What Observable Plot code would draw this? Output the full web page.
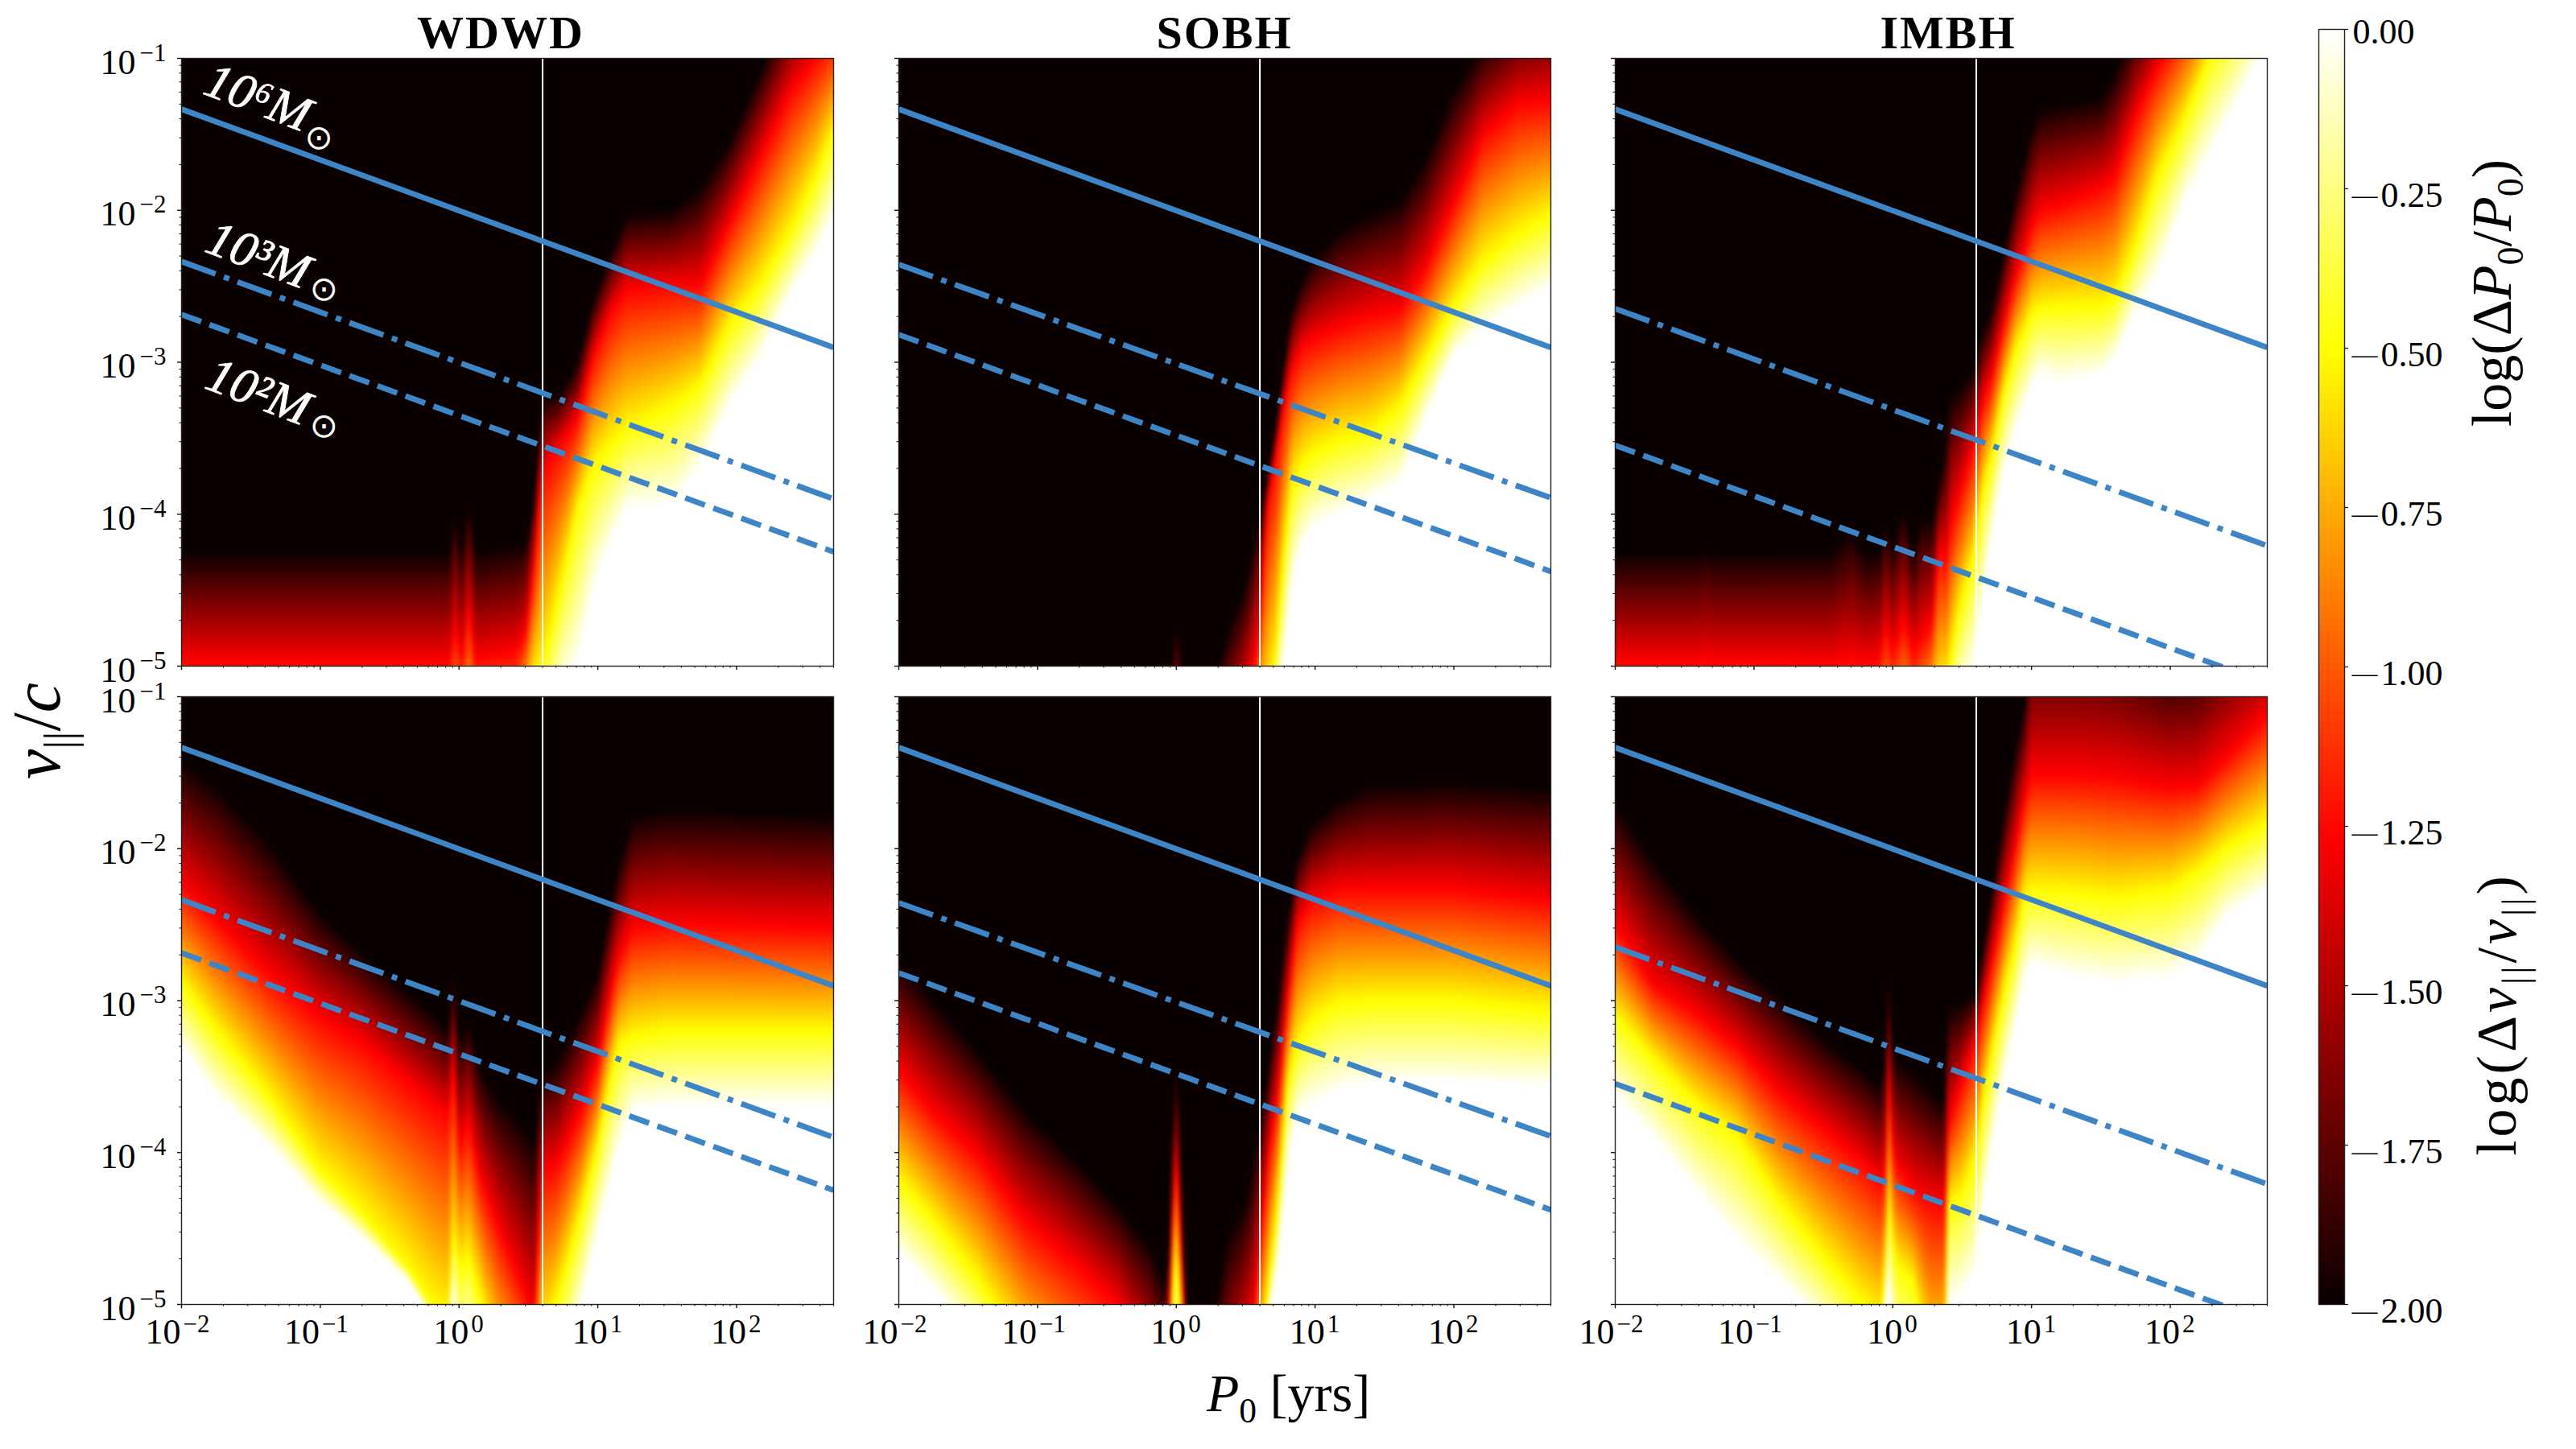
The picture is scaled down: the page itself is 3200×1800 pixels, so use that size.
<!DOCTYPE html>
<html>
<head>
<meta charset="utf-8">
<script src="https://cdn.jsdelivr.net/npm/d3@7"></script>
<script src="https://cdn.jsdelivr.net/npm/@observablehq/plot@0.6"></script>
<style>
  body { margin: 0; background: white; }
  #figure { position: relative; width: 3200px; height: 1800px; overflow: hidden; font-family: "Liberation Serif", serif; color: black; }
  #figure svg { position: absolute; overflow: visible; background: transparent; }
  .txt { position: absolute; white-space: nowrap; line-height: 1; }
  .title { font-weight: bold; font-size: 58px; letter-spacing: 2px; transform: translateX(-50%); }
  .rot { transform: translate(-50%, -50%) rotate(-90deg); }
  .txt sub { font-size: 66%; line-height: 0; }
  i { font-style: italic; }
</style>
</head>
<body>
<div id="figure"></div>
<script>
// colour levels, every panel is stored as the log10(v/c)
// where each column of the map reaches that level (black, red, yellow, white)
const levels = [-2, -1.27, -0.5, 0]
const levelColors = ['#0a0000', '#ff0000', '#ffff00', '#ffffff']

const wdwdTopP = [-2,-1.6,-1.2,-0.8,-0.4,-0.12,-0.07,-0.03,0.02,0.07,0.12,0.4,0.48,0.54,0.6,0.73,0.85,0.97,1.09,1.21,1.54,1.74,1.95,2.15,2.39,2.56,2.7]
const wdwdTopBlack = [-4.25,-4.25,-4.25,-4.25,-4.25,-4.25,-4.25,-3.98,-4.25,-3.9,-4.25,-4.2,-4.19,-3.89,-3.23,-3.2,-3.0,-2.58,-2.28,-2.02,-2.0,-1.84,-1.54,-1.12,-0.6,-0.4,-0.3]
const wdwdTopRed = [-4.97,-4.97,-4.97,-4.97,-4.97,-4.97,-4.97,-4.75,-4.95,-4.62,-4.95,-4.9,-4.78,-4.33,-3.71,-3.53,-3.38,-2.94,-2.67,-2.52,-2.49,-2.49,-2.08,-1.69,-1.21,-1.0,-0.85]
const wdwdTopYellow = [-5.7,-5.7,-5.7,-5.7,-5.7,-5.7,-5.7,-5.5,-5.6,-5.45,-5.6,-5.6,-5.25,-5.1,-5.0,-4.5,-3.98,-3.68,-3.55,-3.44,-3.29,-3.15,-2.76,-2.52,-2.14,-1.81,-1.48]
const wdwdTopWhite = [-6.3,-6.3,-6.3,-6.3,-6.3,-6.3,-6.3,-6.1,-6.2,-6.1,-6.2,-6.2,-5.7,-5.6,-5.6,-5.17,-5,-4.48,-4.19,-3.96,-3.93,-3.68,-3.29,-3,-2.55,-2.31,-2.02]

const sobhTopP = [-2,-1.5,-1,-0.5,-0.2,-0.06,0,0.06,0.15,0.3,0.4,0.5,0.59,0.65,0.71,0.77,0.83,0.91,1,1.18,1.4,1.61,1.79,2,2.21,2.46,2.7]
const sobhTopBlack = [-5.5,-5.5,-5.5,-5.5,-5.5,-5.2,-4.7,-5.1,-5.3,-5,-4.68,-4.45,-4.03,-3.77,-3.46,-3.04,-2.65,-2.45,-2.29,-2.13,-2.02,-1.93,-1.67,-1.2,-0.9,-0.7,-0.6]
const sobhTopRed = [-6,-6,-6,-6,-6,-6,-5.4,-6,-6,-5.6,-5.5,-5.2,-4.86,-3.95,-3.64,-3.3,-3.04,-2.89,-2.84,-2.76,-2.69,-2.65,-2.39,-1.95,-1.5,-1.3,-1.27]
const sobhTopYellow = [-7,-7,-7,-7,-7,-7,-6.5,-7,-7,-6.4,-5.9,-5.6,-5.4,-5.3,-5,-4.34,-3.82,-3.67,-3.59,-3.51,-3.46,-3.3,-2.99,-2.63,-2.34,-2.16,-2.03]
const sobhTopWhite = [-8,-8,-8,-8,-8,-8,-7.5,-8,-8,-7,-6.3,-5.9,-5.8,-5.6,-5.3,-5,-4.47,-4.19,-4.08,-3.99,-3.9,-3.8,-3.38,-2.95,-2.78,-2.63,-2.5]

const imbhTopP = [-2,-1.7,-1.4,-1.35,-1.3,-0.9,-0.45,-0.3,-0.2,-0.1,-0.05,0,0.08,0.15,0.21,0.28,0.34,0.38,0.41,0.47,0.58,0.65,0.71,0.79,0.88,1,1.06,1.2,1.5,1.6,1.76,1.9,2.1,2.3,2.5,2.7]
const imbhTopBlack = [-4.26,-4.26,-4.26,-4.22,-4.26,-4.26,-4.25,-4.1,-4.25,-4.25,-4.05,-4.2,-3.95,-4.25,-4.0,-4.05,-3.75,-3.56,-3.23,-3.17,-3.04,-2.78,-2.65,-2.32,-1.9,-1.46,-1.33,-1.3,-1.26,-1.09,-0.75,-0.6,-0.3,-0.1,0.1,0.3]
const imbhTopRed = [-4.97,-4.97,-4.97,-4.95,-4.97,-4.97,-4.98,-4.95,-4.97,-4.95,-4.75,-4.9,-4.7,-4.9,-4.8,-4.72,-4.2,-4.34,-4.08,-3.9,-3.56,-3.25,-3.1,-2.78,-2.45,-2.11,-2,-1.96,-1.85,-1.77,-1.35,-1.07,-0.75,-0.5,-0.3,-0.1]
const imbhTopYellow = [-5.7,-5.7,-5.7,-5.7,-5.7,-5.7,-5.7,-5.7,-5.7,-5.65,-5.5,-5.6,-5.45,-5.6,-5.5,-5.3,-5.15,-5.13,-5,-4.68,-4.3,-3.85,-3.64,-3.25,-2.94,-2.69,-2.65,-2.63,-2.63,-2.58,-2.21,-1.8,-1.41,-0.95,-0.7,-0.4]
const imbhTopWhite = [-6.3,-6.3,-6.3,-6.3,-6.3,-6.3,-6.3,-6.3,-6.3,-6.3,-6,-6.2,-6,-6.1,-6,-5.8,-5.7,-5.6,-5.5,-5.25,-5,-4.55,-4.16,-3.75,-3.46,-3.17,-3.07,-3.13,-3.08,-2.97,-2.65,-2.45,-1.95,-1.61,-1.25,-0.9]

const wdwdBotP = [-2,-1.75,-1.38,-1.01,-0.7,-0.37,-0.2,-0.08,-0.04,0,0.07,0.15,0.27,0.45,0.54,0.6,0.7,0.88,1,1.08,1.15,1.25,1.5,2.7]
const wdwdBotBlack = [-1.42,-1.58,-1.94,-2.41,-2.68,-2.94,-3.07,-3.2,-2.8,-3.27,-3.12,-3.43,-3.62,-3.79,-3.95,-3.46,-3.4,-3.07,-2.81,-2.42,-2.1,-1.79,-1.74,-1.78]
const wdwdBotRed = [-2.23,-2.46,-2.81,-3.1,-3.27,-3.53,-3.66,-3.75,-3.45,-3.95,-3.8,-4.15,-4.45,-4.86,-5.08,-4.11,-4.08,-3.72,-3.4,-3,-2.72,-2.52,-2.49,-2.52]
const wdwdBotYellow = [-2.88,-3.2,-3.62,-4.11,-4.4,-4.76,-4.99,-5.1,-4.55,-4.76,-4.7,-4.95,-5.36,-5.7,-5.7,-5.2,-5,-4.4,-3.95,-3.56,-3.3,-3.24,-3.2,-3.2]
const wdwdBotWhite = [-3.3,-3.63,-3.95,-4.32,-4.56,-4.84,-5.1,-5.4,-4.86,-5.41,-5.2,-5.7,-6,-6.3,-6.3,-5.9,-5.7,-5,-4.53,-4.24,-3.98,-3.72,-3.69,-3.69]

const sobhBotP = [-2,-1.76,-1.43,-1.09,-0.76,-0.42,-0.19,-0.09,-0.05,-0.03,0,0.03,0.06,0.1,0.2,0.29,0.37,0.5,0.57,0.6,0.67,0.73,0.8,0.87,0.97,1.17,1.4,2,2.7]
const sobhBotBlack = [-2.72,-2.98,-3.33,-3.72,-4.01,-4.34,-4.6,-4.86,-4.6,-3.95,-3.4,-3.95,-4.76,-5.41,-5.41,-5,-4.53,-4.31,-4,-3.79,-3.4,-2.98,-2.46,-2.07,-1.84,-1.68,-1.58,-1.56,-1.6]
const sobhBotRed = [-3.46,-3.72,-4.01,-4.44,-4.7,-4.99,-5.41,-5.7,-5,-4.44,-4.05,-4.53,-5.05,-6,-6,-5.8,-5.7,-5.25,-5,-4.6,-3.95,-3.62,-3,-2.49,-2.34,-2.26,-2.26,-2.26,-2.34]
const sobhBotYellow = [-4.18,-4.44,-4.83,-5.34,-5.73,-6.2,-6.7,-7,-5.7,-5.02,-4.7,-5.05,-5.7,-6.7,-6.7,-6.5,-6.5,-6,-5.5,-5.4,-4.85,-4.37,-3.56,-3.3,-3.14,-3.02,-3,-3,-3.07]
const sobhBotWhite = [-4.66,-4.89,-5.25,-5.73,-6.2,-6.7,-7.3,-7.7,-6.7,-5.73,-5.41,-5.7,-6.7,-7.5,-7.5,-7.2,-7,-6.5,-5.9,-5.7,-5.05,-4.76,-4.11,-3.75,-3.69,-3.59,-3.54,-3.54,-3.56]

const imbhBotP = [-2,-1.73,-1.43,-1.12,-0.82,-0.52,-0.21,-0.09,-0.05,-0.03,0,0.03,0.15,0.27,0.37,0.4,0.49,0.6,0.65,0.71,0.78,0.88,0.95,1,1.3,1.6,2,2.2,2.4,2.7]
const imbhBotBlack = [-1.69,-2.06,-2.42,-2.73,-2.97,-3.23,-3.46,-3.56,-3.3,-2.8,-3.3,-3.38,-3.46,-3.59,-3.67,-3.04,-3.02,-2.94,-2.65,-2.29,-1.87,-1.35,-1.04,-0.5,-0.5,-0.55,-0.75,-0.7,-0.5,-0.3]
const imbhBotRed = [-2.5,-2.89,-3.07,-3.3,-3.59,-3.82,-4.06,-4.19,-4.08,-3.5,-3.95,-4.08,-4.24,-4.3,-4.34,-3.82,-3.56,-3.25,-3.02,-2.76,-2.45,-2,-1.67,-1.51,-1.51,-1.53,-1.6,-1.58,-1.4,-1.12]
const imbhBotYellow = [-3.1,-3.38,-3.67,-3.9,-4.32,-4.66,-5,-5.1,-4.74,-4.3,-4.6,-4.74,-4.86,-5.4,-5.4,-4.34,-4.29,-4.03,-3.67,-3.38,-3.04,-2.65,-2.32,-2.28,-2.29,-2.33,-2.27,-2.15,-2,-1.83]
const imbhBotWhite = [-3.62,-3.9,-4.24,-4.58,-4.84,-5.12,-5.5,-5.7,-4.95,-4.86,-5.12,-5.4,-5.6,-5.9,-5.9,-5,-4.94,-4.79,-4.34,-4,-3.62,-3.17,-2.86,-2.76,-2.84,-2.88,-2.85,-2.72,-2.45,-2.26]

// mass lines, v/c at P0 = 0.01 and P0 = 500 yr, same in both rows
const lineP = [0.01, 500]
const wdwdSolid = [0.0463, 0.00125], wdwdDashDot = [0.0046, 0.000126], wdwdDash = [0.00206, 0.0000565]
const sobhSolid = [0.0463, 0.00125], sobhDashDot = [0.0044, 0.000128], sobhDash = [0.00152, 0.000042]
const imbhSolid = [0.0463, 0.00125], imbhDashDot = [0.00225, 0.000062], imbhDash = [0.000284, 0.0000077]

const orbitP = 4
const xMajor = [0.01, 0.1, 1, 10, 100]
const xExp = ['\u22122', '\u22121', '0', '1', '2']
const yMajor = [1e-5, 1e-4, 1e-3, 1e-2, 1e-1]
const yExp = ['\u22125', '\u22124', '\u22123', '\u22122', '\u22121']
const xMinor = [0.01, 0.1, 1, 10, 100].flatMap(d => [2,3,4,5,6,7,8,9].map(m => m * d)).filter(d => d <= 500)
const yMinor = [1e-5, 1e-4, 1e-3, 1e-2].flatMap(d => [2,3,4,5,6,7,8,9].map(m => m * d))

const massLabels = ['10\u2076', '10\u00b3', '10\u00b2']
const massLabelP = [0.0139, 0.0143, 0.0143]
const massLabelV = [0.059, 0.0054, 0.00068]
const sunP = [0.0975, 0.106, 0.106]
const sunV = [0.0298, 0.00302, 0.00038]

const cbarTicks = [-1.75, -1.5, -1.25, -1, -0.75, -0.5, -0.25, -2]
const cbarSteps = d3.range(-2, 0, 0.005)

const blue = '#3d85c6'
const colorScale = {type: 'linear', domain: levels, range: levelColors, clamp: true}

// one value per frame pixel, filled between the level curves read above
const gridW = 810, gridH = 755
const pxP = d3.range(gridW).map(i => -2 + (i + 0.5) / gridW * (Math.log10(500) + 2))
const pxV = d3.range(gridH).map(j => -1 - (j + 0.5) / gridH * 4)
const pxIndex = d3.range(gridW * gridH)
function levelGrid(P, black, red, yellow, white) {
  let curves = [white, yellow, red, black].map(c => d3.scaleLinear().domain(P).range(c))
  let grid = new Float64Array(gridW * gridH)
  pxP.forEach((p, i) => {
    let column = d3.scaleLinear().domain(curves.map(c => c(p))).range([0, -0.5, -1.27, -2]).clamp(true)
    pxV.forEach((v, j) => { grid[j * gridW + i] = column(v) })
  })
  return grid
}

function massLine(vs, dash) {
  let rows = lineP.map((p, i) => ({p, v: vs[i]}))
  return Plot.line(rows, {x: 'p', y: 'v', stroke: blue, strokeWidth: 7, strokeDasharray: dash, strokeLinecap: 'butt', clip: true})
}

const frameW = 810, frameH = 755
const mL = 150, mT = 20, mB = 90, mR = 20

function panel(cfg) {
  let marks = [
    Plot.raster(pxIndex, {
      x: k => 10 ** pxP[k % gridW],
      y: k => 10 ** pxV[Math.floor(k / gridW)],
      fill: k => cfg.grid[k],
      blur: 2
    }),
    Plot.ruleX([orbitP], {stroke: 'white', strokeWidth: 2}),
    massLine(cfg.solid, null),
    massLine(cfg.dashDot, '45,11,7,11'),
    massLine(cfg.dash, '26,11'),
    Plot.frame({stroke: '#222', strokeWidth: 1.4}),
    Plot.axisX({anchor: 'bottom', ticks: xMajor, tickSize: 5, tickPadding: 0, strokeWidth: 1.4, stroke: '#111', tickFormat: () => '', label: null}),
    Plot.axisX({anchor: 'bottom', ticks: xMinor, tickSize: 2.5, tickPadding: 0, strokeWidth: 1, stroke: '#111', tickFormat: () => '', label: null}),
    Plot.axisY({anchor: 'left', ticks: yMajor, tickSize: 5, tickPadding: 0, strokeWidth: 1.4, stroke: '#111', tickFormat: () => '', label: null}),
    Plot.axisY({anchor: 'left', ticks: yMinor, tickSize: 2.5, tickPadding: 0, strokeWidth: 1, stroke: '#111', tickFormat: () => '', label: null})
  ]
  if (cfg.showX) {
    let neg = xMajor.map((d, i) => ({d, e: xExp[i]})).filter(t => t.d < 1)
    let pos = xMajor.map((d, i) => ({d, e: xExp[i]})).filter(t => t.d >= 1)
    marks.push(
      Plot.text(neg, {x: 'd', text: () => '10', frameAnchor: 'bottom', lineAnchor: 'bottom', textAnchor: 'end', dx: -1, dy: 48, fontSize: 44}),
      Plot.text(neg, {x: 'd', text: 'e', frameAnchor: 'bottom', lineAnchor: 'bottom', textAnchor: 'start', dx: 2, dy: 34, fontSize: 31}),
      Plot.text(pos, {x: 'd', text: () => '10', frameAnchor: 'bottom', lineAnchor: 'bottom', textAnchor: 'end', dx: 12, dy: 48, fontSize: 44}),
      Plot.text(pos, {x: 'd', text: 'e', frameAnchor: 'bottom', lineAnchor: 'bottom', textAnchor: 'start', dx: 15, dy: 34, fontSize: 31})
    )
  }
  if (cfg.showY) {
    let ys = yMajor.map((d, i) => ({d, e: yExp[i]}))
    marks.push(
      Plot.text(ys, {y: 'd', text: () => '10', frameAnchor: 'left', lineAnchor: 'bottom', textAnchor: 'end', dx: -57, dy: 19, fontSize: 44}),
      Plot.text(ys, {y: 'd', text: 'e', frameAnchor: 'left', lineAnchor: 'bottom', textAnchor: 'start', dx: -52, dy: 3, fontSize: 31})
    )
  }
  if (cfg.massLabels) {
    marks.push(
      Plot.text(massLabels.map((t, i) => ({t: t + 'M', p: massLabelP[i], v: massLabelV[i]})), {
        x: 'p', y: 'v', text: 't', rotate: 21, fill: 'white', stroke: 'white', strokeWidth: 0.8,
        textAnchor: 'start', lineAnchor: 'bottom', fontSize: 62, fontStyle: 'italic'}),
      Plot.text(sunP.map((p, i) => ({p, v: sunV[i]})), {
        x: 'p', y: 'v', text: () => '\u2299', fill: 'white', fontSize: 42, fontFamily: 'DejaVu Sans'})
    )
  }
  let chart = Plot.plot({
    width: frameW + mL + mR,
    height: frameH + mT + mB,
    marginLeft: mL, marginRight: mR, marginTop: mT, marginBottom: mB,
    x: {type: 'log', domain: [0.01, 500]},
    y: {type: 'log', domain: [1e-5, 0.1]},
    color: colorScale,
    style: {fontFamily: '"Liberation Serif", serif', background: 'transparent', color: 'black'},
    marks
  })
  chart.style.left = (cfg.left - mL) + 'px'
  chart.style.top = (cfg.top - mT) + 'px'
  return chart
}

const figure = d3.select('#figure')
const colLeft = [225, 1116, 2006]
const rowTop = [72, 865]

const panels = [
  {grid: levelGrid(wdwdTopP, wdwdTopBlack, wdwdTopRed, wdwdTopYellow, wdwdTopWhite), solid: wdwdSolid, dashDot: wdwdDashDot, dash: wdwdDash, left: colLeft[0], top: rowTop[0], showY: true, massLabels: true},
  {grid: levelGrid(sobhTopP, sobhTopBlack, sobhTopRed, sobhTopYellow, sobhTopWhite), solid: sobhSolid, dashDot: sobhDashDot, dash: sobhDash, left: colLeft[1], top: rowTop[0]},
  {grid: levelGrid(imbhTopP, imbhTopBlack, imbhTopRed, imbhTopYellow, imbhTopWhite), solid: imbhSolid, dashDot: imbhDashDot, dash: imbhDash, left: colLeft[2], top: rowTop[0]},
  {grid: levelGrid(wdwdBotP, wdwdBotBlack, wdwdBotRed, wdwdBotYellow, wdwdBotWhite), solid: wdwdSolid, dashDot: wdwdDashDot, dash: wdwdDash, left: colLeft[0], top: rowTop[1], showX: true, showY: true},
  {grid: levelGrid(sobhBotP, sobhBotBlack, sobhBotRed, sobhBotYellow, sobhBotWhite), solid: sobhSolid, dashDot: sobhDashDot, dash: sobhDash, left: colLeft[1], top: rowTop[1], showX: true},
  {grid: levelGrid(imbhBotP, imbhBotBlack, imbhBotRed, imbhBotYellow, imbhBotWhite), solid: imbhSolid, dashDot: imbhDashDot, dash: imbhDash, left: colLeft[2], top: rowTop[1], showX: true}
]
panels.forEach(cfg => figure.append(() => panel(cfg)))

// colourbar
const cbar = Plot.plot({
  width: 32 + 2 + 200,
  height: 1584 + 20 + 30,
  marginLeft: 2, marginRight: 200, marginTop: 20, marginBottom: 30,
  x: {axis: null},
  y: {domain: [-2, 0], axis: null},
  color: colorScale,
  style: {fontFamily: '"Liberation Serif", serif', background: 'transparent', color: 'black'},
  marks: [
    Plot.rect(cbarSteps, {y1: d => d, y2: d => d + 0.005, fill: d => d + 0.0025, shapeRendering: 'crispEdges'}),
    Plot.frame({stroke: '#222', strokeWidth: 1.4}),
    Plot.axisY({anchor: 'right', ticks: [...cbarTicks, 0], tickSize: 4, tickPadding: 0, strokeWidth: 1.2, stroke: '#111', tickFormat: () => '', label: null}),
    Plot.text(cbarTicks, {y: d => d, text: () => '\u2014', frameAnchor: 'right', textAnchor: 'start', lineAnchor: 'middle', dx: 9, dy: 8, fontSize: 32}),
    Plot.text(cbarTicks, {y: d => d, text: d => Math.abs(d).toFixed(2), frameAnchor: 'right', textAnchor: 'start', lineAnchor: 'middle', dx: 45, dy: 8, fontSize: 44}),
    Plot.text([0], {y: d => d, text: d => d.toFixed(2), frameAnchor: 'right', textAnchor: 'start', lineAnchor: 'middle', dx: 10, dy: 3, fontSize: 44})
  ]
})
cbar.style.left = (2880 - 2) + 'px'
cbar.style.top = (36 - 20) + 'px'
figure.append(() => cbar)

// text outside the plots
function addText(html, cls, x, y, size) {
  let t = figure.append('div').attr('class', 'txt ' + cls).style('left', x + 'px').style('top', y + 'px').html(html)
  if (size) t.style('font-size', size + 'px')
  return t
}
addText('WDWD', 'title', 622, 12)
addText('SOBH', 'title', 1521, 12)
addText('IMBH', 'title', 2420, 12)
addText('<i>v</i><sub>||</sub>/<i>c</i>', 'rot', 46, 908, 84)
addText('<i>P</i><sub>0</sub> [yrs]', '', 1499, 1698, 66)
addText('log(\u0394<i>P</i><sub>0</sub>/<i>P</i><sub>0</sub>)', 'rot', 3096, 364, 70)
addText('log(\u0394<i>v</i><sub>||</sub>/<i>v</i><sub>||</sub>)', 'rot', 3102, 1260, 70).style('letter-spacing', '4px')
</script>
</body>
</html>
